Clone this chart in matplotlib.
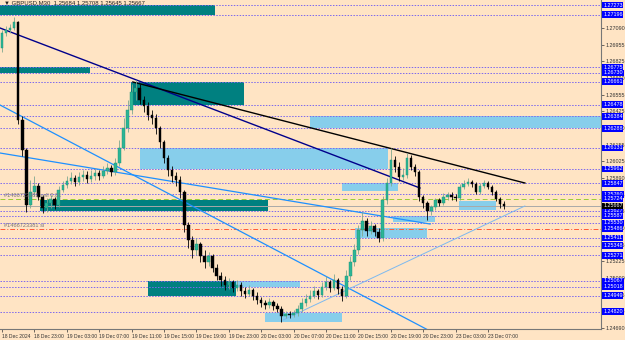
import numpy as np
import matplotlib.pyplot as plt
from matplotlib.patches import Rectangle

plt.rcParams['font.family'] = ['Liberation Sans', 'DejaVu Sans']

# GBPUSD M30 candles (bar 0 = 18 Dec 19:00), prices
first_open = 1.26930
closes = [1.27050, 1.27074, 1.27090, 1.27138, 1.26354, 1.26114, 1.25674, 1.25778, 1.25826, 1.25738,
          1.25650, 1.25690, 1.25722, 1.25674, 1.25794, 1.25834, 1.25866, 1.25890, 1.25858, 1.25898,
          1.25914, 1.25882, 1.25906, 1.25930, 1.25906, 1.25946, 1.25970, 1.25938, 1.26010, 1.26130,
          1.26290, 1.26434, 1.26578, 1.26610, 1.26514, 1.26466, 1.26394, 1.26370, 1.26290, 1.26178,
          1.26050, 1.25954, 1.25906, 1.25874, 1.25778, 1.25514, 1.25394, 1.25314, 1.25362, 1.25266,
          1.25218, 1.25266, 1.25170, 1.25106, 1.25074, 1.25034, 1.25058, 1.25010, 1.25034, 1.24986,
          1.24962, 1.24994, 1.24946, 1.24914, 1.24890, 1.24874, 1.24898, 1.24866, 1.24842, 1.24786,
          1.24802, 1.24794, 1.24810, 1.24842, 1.24890, 1.24922, 1.24946, 1.24986, 1.24954, 1.25018,
          1.25058, 1.25010, 1.25074, 1.25002, 1.24946, 1.25106, 1.25218, 1.25314, 1.25474, 1.25546,
          1.25466, 1.25506, 1.25458, 1.25410, 1.25714, 1.25850, 1.26034, 1.25978, 1.25898, 1.25914,
          1.26050, 1.25978, 1.25938, 1.25738, 1.25690, 1.25626, 1.25658, 1.25714, 1.25690, 1.25738,
          1.25754, 1.25738, 1.25730, 1.25818, 1.25842, 1.25858, 1.25842, 1.25778, 1.25826, 1.25850,
          1.25818, 1.25778, 1.25722, 1.25684, 1.25667]
highs = [1.27074, 1.27106, 1.27122, 1.27178, 1.27146, 1.26386, 1.26130, 1.25874, 1.25906, 1.25850,
         1.25754, 1.25730, 1.25754, 1.25738, 1.25826, 1.25866, 1.25906, 1.25938, 1.25914, 1.25938,
         1.25954, 1.25946, 1.25954, 1.25970, 1.25954, 1.25986, 1.26010, 1.25994, 1.26050, 1.26194,
         1.26370, 1.26514, 1.26642, 1.26674, 1.26642, 1.26546, 1.26498, 1.26434, 1.26402, 1.26306,
         1.26194, 1.26074, 1.25986, 1.25938, 1.25906, 1.25794, 1.25538, 1.25426, 1.25410, 1.25378,
         1.25314, 1.25298, 1.25282, 1.25202, 1.25138, 1.25106, 1.25090, 1.25074, 1.25074, 1.25058,
         1.25018, 1.25034, 1.25010, 1.24978, 1.24938, 1.24914, 1.24930, 1.24914, 1.24890, 1.24866,
         1.24826, 1.24826, 1.24834, 1.24874, 1.24930, 1.24962, 1.24994, 1.25026, 1.25002, 1.25058,
         1.25106, 1.25074, 1.25122, 1.25090, 1.25026, 1.25154, 1.25266, 1.25362, 1.25514, 1.25618,
         1.25570, 1.25546, 1.25522, 1.25490, 1.25746, 1.25890, 1.26130, 1.26066, 1.26018, 1.25970,
         1.26090, 1.26074, 1.26002, 1.25954, 1.25754, 1.25706, 1.25674, 1.25730, 1.25730, 1.25770,
         1.25778, 1.25778, 1.25762, 1.25842, 1.25874, 1.25890, 1.25874, 1.25858, 1.25850, 1.25874,
         1.25866, 1.25834, 1.25794, 1.25738, 1.25708]
lows = [1.26898, 1.27026, 1.27050, 1.27074, 1.26322, 1.26066, 1.25618, 1.25650, 1.25746, 1.25714,
        1.25610, 1.25618, 1.25650, 1.25642, 1.25658, 1.25778, 1.25810, 1.25842, 1.25826, 1.25834,
        1.25866, 1.25850, 1.25858, 1.25874, 1.25874, 1.25890, 1.25922, 1.25906, 1.25914, 1.25986,
        1.26114, 1.26258, 1.26402, 1.26514, 1.26482, 1.26418, 1.26354, 1.26322, 1.26242, 1.26130,
        1.26010, 1.25906, 1.25858, 1.25826, 1.25730, 1.25458, 1.25330, 1.25250, 1.25274, 1.25218,
        1.25170, 1.25186, 1.25138, 1.25074, 1.25026, 1.24994, 1.25002, 1.24978, 1.24986, 1.24946,
        1.24930, 1.24946, 1.24914, 1.24882, 1.24858, 1.24842, 1.24850, 1.24834, 1.24818, 1.24738,
        1.24770, 1.24770, 1.24778, 1.24786, 1.24818, 1.24866, 1.24898, 1.24930, 1.24922, 1.24938,
        1.24994, 1.24978, 1.24994, 1.24962, 1.24906, 1.24930, 1.25074, 1.25186, 1.25282, 1.25426,
        1.25426, 1.25442, 1.25426, 1.25378, 1.25386, 1.25682, 1.25826, 1.25938, 1.25866, 1.25874,
        1.25890, 1.25954, 1.25906, 1.25706, 1.25650, 1.25554, 1.25594, 1.25634, 1.25666, 1.25674,
        1.25714, 1.25714, 1.25706, 1.25714, 1.25802, 1.25826, 1.25818, 1.25762, 1.25762, 1.25810,
        1.25802, 1.25754, 1.25706, 1.25650, 1.25645]
opens = [first_open] + closes[:-1]

time_ticks = [0, 8, 16, 24, 32, 40, 48, 56, 64, 72, 80, 88, 96, 104, 112, 120]
time_labels = ['18 Dec 2024', '18 Dec 23:00', '19 Dec 03:00', '19 Dec 07:00', '19 Dec 11:00',
               '19 Dec 15:00', '19 Dec 19:00', '19 Dec 23:00', '20 Dec 03:00', '20 Dec 07:00',
               '20 Dec 11:00', '20 Dec 15:00', '20 Dec 19:00', '20 Dec 23:00', '23 Dec 03:00',
               '23 Dec 07:00']

# horizontal levels
dotted_levels = [1.27273, 1.27196, 1.26775, 1.26730, 1.26661, 1.26478, 1.26384, 1.26288, 1.26131,
                 1.25962, 1.25847, 1.25760, 1.25627, 1.25587, 1.25530, 1.25411, 1.25348, 1.25271,
                 1.25067, 1.25018, 1.24949, 1.24820]
sell_level = 1.25724
sl_level = 1.25486
bid_level = 1.25667

# zones: (bar_from, bar_to, price_low, price_high)
teal_zones = [(-1, 52.6, 1.27196, 1.27273), (-1, 21.7, 1.26730, 1.26775),
              (31.8, 59.8, 1.26478, 1.26661), (9.4, 65.7, 1.25630, 1.25715),
              (36.0, 57.8, 1.24949, 1.25067)]
sky_zones = [(76.0, 149, 1.26288, 1.26384), (34.1, 95.3, 1.25962, 1.26131),
             (84.0, 97.8, 1.25790, 1.25847), (112.8, 122.0, 1.25634, 1.25706),
             (87.2, 105.0, 1.25410, 1.25490), (96.5, 106.9, 1.25538, 1.25586),
             (57.8, 73.6, 1.25018, 1.25067), (64.9, 84.0, 1.24738, 1.24810)]

# trend lines: ((bar, price), (bar, price))
navy_line = ((-0.5, 1.27090), (103.2, 1.25810))
black_line = ((32.3, 1.26658), (129.1, 1.25850))
blue_lines = [((-0.5, 1.26474), (105.2, 1.24674)), ((-0.5, 1.26090), (105.7, 1.25522))]
pale_line = ((69.4, 1.24754), (129.1, 1.25666))

box_labels = [1.27273, 1.27196, 1.26775, 1.26730, 1.26661, 1.26478, 1.26384, 1.26288, 1.26131,
              1.25962, 1.25847, 1.25760, 1.25724, 1.25627, 1.25587, 1.25530, 1.25486, 1.25411,
              1.25348, 1.25271, 1.25067, 1.25018, 1.24949, 1.24820]
axis_ticks = [1.24690, 1.24825, 1.24955, 1.25090, 1.25225, 1.25355, 1.25490, 1.25625, 1.25755,
              1.25890, 1.26025, 1.26155, 1.26290, 1.26425, 1.26555, 1.26690, 1.26825, 1.26955,
              1.27090]

bg = '#FFE4C4'
fig = plt.figure(figsize=(6.25, 3.4), dpi=100, facecolor=bg)
ax = fig.add_axes([0, 11 / 340, 601 / 625, 329 / 340], facecolor=bg)
ax.set_xlim(-0.5, 147.9)
ax.set_ylim(1.24682, 1.27314)

for x0, x1, lo, hi in teal_zones:
    ax.add_patch(Rectangle((x0, lo), x1 - x0, hi - lo, fc='#008080', ec='none', zorder=1))
for x0, x1, lo, hi in sky_zones:
    ax.add_patch(Rectangle((x0, lo), x1 - x0, hi - lo, fc='#87CEEB', ec='none', zorder=1))

for p in dotted_levels:
    ax.axhline(p, color='#7B68EE', lw=0.7, ls=(0, (1.5, 1.5)), zorder=2)
ax.axhline(sell_level, color='#9ACD32', lw=0.7, ls=(0, (5, 3)), zorder=2)
ax.axhline(sl_level, color='#FF5A36', lw=0.7, ls=(0, (5, 2, 1, 2)), zorder=2)
ax.axhline(bid_level, color='#A9A9A9', lw=0.7, zorder=2)

ax.plot(*zip(*navy_line), color='#00008B', lw=1.0, zorder=3)
ax.plot(*zip(*black_line), color='black', lw=1.0, zorder=3)
for ln in blue_lines:
    ax.plot(*zip(*ln), color='#1E90FF', lw=0.9, zorder=3)
ax.plot(*zip(*pale_line), color='#7CB9F0', lw=0.7, zorder=3)

# candles
idx = np.arange(len(closes))
o = np.array(opens); c = np.array(closes); h = np.array(highs); l = np.array(lows)
up = c >= o
ax.vlines(idx[up], l[up], h[up], color='#7FA88F', lw=0.6, zorder=4)
ax.vlines(idx[~up], l[~up], h[~up], color='black', lw=0.6, zorder=4)
body = np.maximum(np.abs(c - o), 0.00003)
ax.bar(idx[up], body[up], bottom=np.minimum(o, c)[up], width=0.62,
       color='#2BB596', edgecolor='#1E8F74', lw=0.3, zorder=5)
ax.bar(idx[~up], body[~up], bottom=np.minimum(o, c)[~up], width=0.62,
       color='black', edgecolor='black', lw=0.3, zorder=5)

# texts
ax.text(0.5, 1.27275, '▼ GBPUSD,M30  1.25684 1.25708 1.25645 1.25667', fontsize=4.3,
        color='#222222', va='bottom', ha='left', zorder=6)
ax.text(0.5, sell_level + 0.00006, '#1466723381 sell 0.01', fontsize=4.1, color='#777777',
        va='bottom', ha='left', zorder=6)
ax.text(0.5, sl_level + 0.00006, '#1466723381 sl', fontsize=4.1, color='#777777',
        va='bottom', ha='left', zorder=6)

# axes styling
for s in ['top', 'left']:
    ax.spines[s].set_visible(False)
for s in ['bottom', 'right']:
    ax.spines[s].set_color('#777777')
    ax.spines[s].set_linewidth(0.8)
ax.yaxis.tick_right()
ax.set_yticks(axis_ticks)
ax.set_yticklabels(['%.5f' % t for t in axis_ticks])
ax.tick_params(axis='y', length=2, width=0.5, colors='#333333', labelsize=3.9, pad=1.5)
ax.set_xticks(time_ticks)
ax.set_xticklabels(time_labels, ha='left')
ax.tick_params(axis='x', length=2, width=0.5, colors='#333333', labelsize=3.6, pad=1.5)

tr = ax.get_yaxis_transform()
for p in box_labels:
    ax.text(1.0035, p, '%.5f' % p, transform=tr, fontsize=3.9, color='white', va='center',
            ha='left', clip_on=False, zorder=20,
            bbox=dict(boxstyle='square,pad=0.15', fc='#0000FF', ec='none'))
ax.text(1.0035, bid_level, '%.5f' % bid_level, transform=tr, fontsize=3.9, color='white',
        va='center', ha='left', clip_on=False, zorder=21,
        bbox=dict(boxstyle='square,pad=0.15', fc='black', ec='none'))

fig.savefig('out.png', dpi=100, facecolor=bg)
